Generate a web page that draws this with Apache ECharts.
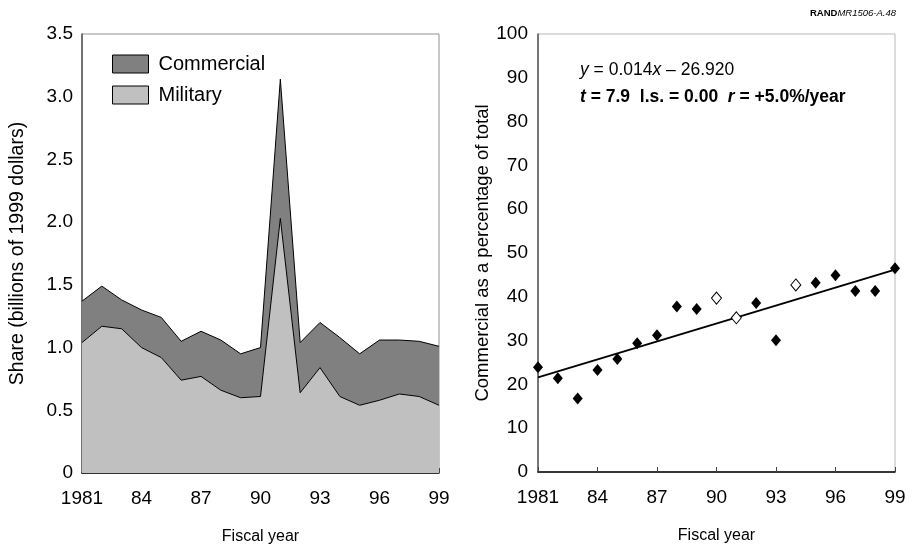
<!DOCTYPE html>
<html>
<head>
<meta charset="utf-8">
<script src="https://cdn.jsdelivr.net/npm/echarts@6/dist/echarts.min.js"></script>
<style>
  html, body { margin: 0; padding: 0; background: #fff; }
  #chart { width: 913px; height: 554px; }
</style>
</head>
<body>
<div id="chart"></div>
<script>
// fiscal years, 1981-1999
var years = ['1981','1982','1983','1984','1985','1986','1987','1988','1989','1990',
             '1991','1992','1993','1994','1995','1996','1997','1998','1999'];
// billions of 1999 dollars
var military   = [1.04,1.17,1.15,1.00,0.92,0.74,0.77,0.66,0.60,0.61,2.03,0.64,0.84,0.61,0.54,0.58,0.63,0.61,0.54];
var commercial = [0.33,0.32,0.23,0.30,0.32,0.31,0.36,0.40,0.35,0.39,1.11,0.40,0.36,0.47,0.41,0.48,0.43,0.44,0.47];
// commercial as % of total
var commercialPct = [23.9,21.4,16.8,23.3,25.8,29.4,31.2,37.8,37.2,39.7,35.2,38.6,30.1,42.7,43.2,44.9,41.3,41.3,46.5];
var hollowYears = ['1990','1991','1994'];
// fitted trend line, value at first and last year
var trendEnds = [21.6, 46.2];

var FONT = "'Liberation Sans', Arial, Helvetica, sans-serif";

function yearLabel(v, i) {
    return i === 0 ? v : v.slice(2);
}
function every3(i) { return i % 3 === 0; }

var filledPts = [], hollowPts = [];
years.forEach(function(y, i){
    if (hollowYears.indexOf(y) >= 0) hollowPts.push([y, commercialPct[i]]);
    else filledPts.push([y, commercialPct[i]]);
});

var myChart = echarts.init(document.getElementById('chart'));
var option = {
    animation: false,
    textStyle: { fontFamily: FONT },
    legend: {
        left: 112,
        top: 54,
        padding: 0,
        orient: 'vertical',
        icon: 'rect',
        itemWidth: 36,
        itemHeight: 18,
        itemGap: 11,
        itemStyle: { borderColor: '#000', borderWidth: 1 },
        textStyle: { fontSize: 20, lineHeight: 18, color: '#000', fontFamily: FONT, padding: [0, 0, 0, 5] },
        data: ['Commercial', 'Military']
    },
    grid: [
        { left: 82, right: 474, top: 34, bottom: 81, outerBoundsMode: 'none', show: true, borderColor: '#909090', borderWidth: 1 },
        { left: 538, right: 18, top: 34, bottom: 82, outerBoundsMode: 'none', show: true, borderColor: '#b8b8b8', borderWidth: 1 }
    ],
    xAxis: [
        {
            gridIndex: 0,
            type: 'category',
            data: years,
            boundaryGap: false,
            name: 'Fiscal year',
            nameLocation: 'middle',
            nameGap: 56,
            nameTextStyle: { fontSize: 16, color: '#000' },
            axisLine: { lineStyle: { color: '#000', width: 1.5 } },
            axisTick: { inside: true, length: 5, interval: 0, lineStyle: { color: '#444' } },
            axisLabel: { interval: every3, formatter: yearLabel, fontSize: 19, color: '#000', margin: 16 }
        },
        {
            gridIndex: 1,
            type: 'category',
            data: years,
            boundaryGap: false,
            name: 'Fiscal year',
            nameLocation: 'middle',
            nameGap: 56,
            nameTextStyle: { fontSize: 16, color: '#000' },
            axisLine: { lineStyle: { color: '#000', width: 1.5 } },
            axisTick: { inside: true, length: 5, interval: every3, lineStyle: { color: '#444' } },
            axisLabel: { interval: every3, formatter: yearLabel, fontSize: 19, color: '#000', margin: 16 }
        }
    ],
    yAxis: [
        {
            gridIndex: 0,
            type: 'value',
            min: 0, max: 3.5, interval: 0.5,
            name: 'Share (billions of 1999 dollars)',
            nameLocation: 'middle',
            nameGap: 54,
            nameTextStyle: { fontSize: 19.5, color: '#000' },
            axisLine: { show: true, lineStyle: { color: '#555', width: 1.5 } },
            axisTick: { show: false },
            splitLine: { show: false },
            axisLabel: {
                fontSize: 19, color: '#000', margin: 9,
                formatter: function(v){ return v === 0 ? '0' : v.toFixed(1); }
            }
        },
        {
            gridIndex: 1,
            type: 'value',
            min: 0, max: 100, interval: 10,
            name: 'Commercial as a percentage of total',
            nameLocation: 'middle',
            nameGap: 46,
            nameTextStyle: { fontSize: 18.5, color: '#000' },
            axisLine: { show: true, lineStyle: { color: '#555', width: 1.5 } },
            axisTick: { inside: true, length: 4, lineStyle: { color: '#555' } },
            splitLine: { show: false },
            axisLabel: { fontSize: 19, color: '#000', margin: 10 }
        }
    ],
    series: [
        {
            name: 'Military',
            type: 'line',
            xAxisIndex: 0, yAxisIndex: 0,
            stack: 'share',
            showSymbol: false,
            color: '#c0c0c0',
            lineStyle: { color: '#000', width: 1 },
            areaStyle: { color: '#c0c0c0', opacity: 1 },
            data: military
        },
        {
            name: 'Commercial',
            type: 'line',
            xAxisIndex: 0, yAxisIndex: 0,
            stack: 'share',
            showSymbol: false,
            color: '#808080',
            lineStyle: { color: '#000', width: 1 },
            areaStyle: { color: '#808080', opacity: 1 },
            data: commercial
        },
        {
            name: 'trend',
            type: 'line',
            xAxisIndex: 1, yAxisIndex: 1,
            showSymbol: false,
            lineStyle: { color: '#000', width: 2 },
            data: [[years[0], trendEnds[0]], [years[years.length - 1], trendEnds[1]]],
            z: 1
        },
        {
            name: 'share',
            type: 'scatter',
            xAxisIndex: 1, yAxisIndex: 1,
            symbol: 'diamond',
            symbolSize: [10, 12],
            itemStyle: { color: '#000', opacity: 1 },
            data: filledPts,
            z: 3
        },
        {
            name: 'share (open)',
            type: 'scatter',
            xAxisIndex: 1, yAxisIndex: 1,
            symbol: 'diamond',
            symbolSize: [10, 12],
            itemStyle: { color: '#fff', borderColor: '#000', borderWidth: 1, opacity: 1 },
            data: hollowPts,
            z: 3
        }
    ],
    graphic: [
        {
            type: 'text',
            right: 17, top: 8,
            style: {
                text: '{b|RAND}{i|MR1506-A.48}',
                rich: {
                    b: { fontWeight: 'bold', fontSize: 9.5, fontFamily: FONT, fill: '#000' },
                    i: { fontStyle: 'italic', fontSize: 9.5, fontFamily: FONT, fill: '#000' }
                }
            }
        },
        {
            type: 'text',
            left: 580, top: 61,
            style: {
                text: '{i|y} = 0.014{i|x} – 26.920',
                font: '17.5px ' + FONT,
                fill: '#000',
                rich: {
                    i: { fontStyle: 'italic', fontSize: 17.5, fontFamily: FONT }
                }
            }
        },
        {
            type: 'text',
            left: 580, top: 88,
            style: {
                text: '{bi|t} {b|= 7.9  l.s. = 0.00  }{bi|r} {b|= +5.0%/year}',
                font: 'bold 17.5px ' + FONT,
                fill: '#000',
                rich: {
                    b: { fontWeight: 'bold', fontSize: 17.5, fontFamily: FONT },
                    bi: { fontWeight: 'bold', fontStyle: 'italic', fontSize: 17.5, fontFamily: FONT }
                }
            }
        }
    ]
};
myChart.setOption(option);
</script>
</body>
</html>
